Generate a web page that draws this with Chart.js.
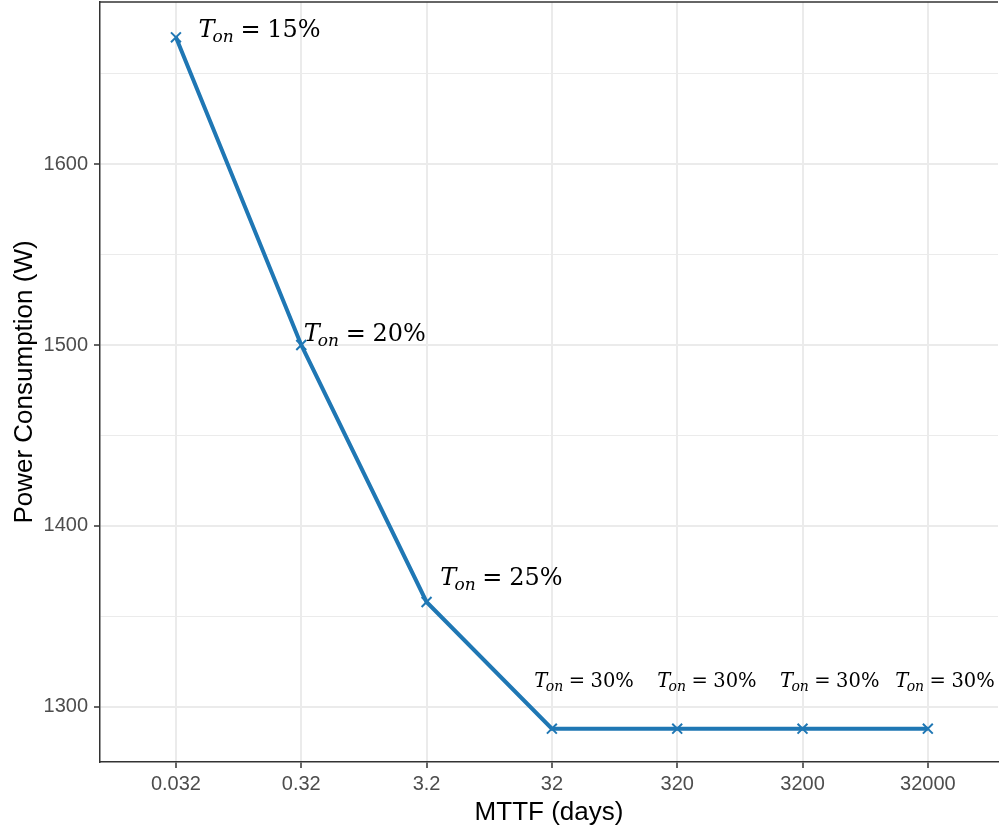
<!DOCTYPE html>
<html>
<head>
<meta charset="utf-8">
<script src="https://cdn.jsdelivr.net/npm/chart.js@4"></script>
<style>
  html, body { margin: 0; padding: 0; background: #fff; }
  #wrap { width: 1000px; height: 830px; }
</style>
</head>
<body>
<div id="wrap"><canvas id="chart" width="1000" height="830"></canvas></div>
<script>
// MTTF categories (evenly spaced on a log scale)
const mttf = ['0.032', '0.32', '3.2', '32', '320', '3200', '32000'];
const power = [1670, 1500, 1358, 1288, 1288, 1288, 1288];
const yTicks = [1300, 1350, 1400, 1450, 1500, 1550, 1600, 1650];

// T_on annotations, anchored at data coords (left edge of text)
const tonValues = ['15%', '20%', '25%', '30%', '30%', '30%', '30%'];
const tonX = [0.18, 1.02, 2.11, 2.86, 3.84, 4.82, 5.74];
const tonY = [1675, 1507, 1372, 1315, 1315, 1315, 1315];
const tonSize = [24, 24, 24, 19.5, 19.5, 19.5, 19.5];

const grey = '#333333';
const sans = '"Liberation Sans", Arial, sans-serif';

const mathLabels = {
  id: 'mathLabels',
  afterDatasetsDraw(chart) {
    const { ctx, scales: { x, y } } = chart;
    ctx.save();
    ctx.fillStyle = '#000';
    ctx.textBaseline = 'alphabetic';
    tonValues.forEach((v, i) => {
      const s = tonSize[i];
      let px = x.getPixelForValue(tonX[i]);
      const py = y.getPixelForValue(tonY[i]) + s * 0.35;
      ctx.font = `italic ${s}px "DejaVu Serif", serif`;
      ctx.fillText('T', px, py);
      px += ctx.measureText('T').width - s * 0.08;
      ctx.font = `italic ${Math.round(s * 0.72)}px "DejaVu Serif", serif`;
      ctx.fillText('on', px, py + s * 0.22);
      px += ctx.measureText('on').width + s * 0.28;
      ctx.font = `${s}px "DejaVu Serif", serif`;
      ctx.fillText('=', px, py);
      px += ctx.measureText('=').width + s * 0.28;
      ctx.fillText(v, px, py);
    });
    ctx.restore();
  }
};

const topBorder = {
  id: 'topBorder',
  afterDraw(chart) {
    const { ctx, chartArea } = chart;
    ctx.save();
    ctx.strokeStyle = grey;
    ctx.lineWidth = 1.5;
    ctx.beginPath();
    ctx.moveTo(chartArea.left, chartArea.top);
    ctx.lineTo(chartArea.right, chartArea.top);
    ctx.stroke();
    ctx.restore();
  }
};

new Chart(document.getElementById('chart'), {
  type: 'line',
  data: {
    datasets: [{
      data: power.map((v, i) => ({ x: i, y: v })),
      borderColor: '#1F77B4',
      backgroundColor: '#1F77B4',
      borderWidth: 4,
      pointStyle: 'crossRot',
      pointRadius: 7,
      pointBorderWidth: 2,
      tension: 0
    }]
  },
  options: {
    responsive: false,
    animation: false,
    layout: { autoPadding: false, padding: { top: 2, right: 2, left: 0, bottom: 0 } },
    plugins: { legend: { display: false }, tooltip: { enabled: false } },
    scales: {
      x: {
        type: 'linear',
        min: -0.606,
        max: 6.56,
        afterBuildTicks: (s) => { s.ticks = mttf.map((_, i) => ({ value: i })); },
        afterFit: (s) => { s.height = 68; s.paddingLeft = 0; s.paddingRight = 0; },
        ticks: {
          autoSkip: false,
          maxRotation: 0,
          padding: 4,
          color: '#4D4D4D',
          font: { family: sans, size: 20 },
          callback: (v) => mttf[v]
        },
        grid: { color: '#EBEBEB', lineWidth: 2, tickColor: grey, tickLength: 6, tickWidth: 1.5 },
        border: { display: true, color: grey, width: 1.5 },
        title: {
          display: true,
          text: 'MTTF (days)',
          color: '#000',
          font: { family: sans, size: 26 },
          padding: { top: 0, bottom: 2 }
        }
      },
      y: {
        min: 1269.6,
        max: 1689.5,
        afterBuildTicks: (s) => { s.ticks = yTicks.map(v => ({ value: v })); },
        afterFit: (s) => { s.width = 100; s.paddingTop = 0; s.paddingBottom = 0; },
        ticks: {
          padding: 6,
          color: '#4D4D4D',
          font: { family: sans, size: 20 },
          callback: (v) => (v % 100 === 0 ? String(v) : '')
        },
        grid: {
          color: '#EBEBEB',
          lineWidth: (c) => (c.tick && c.tick.value % 100 === 0 ? 2 : 1),
          tickColor: (c) => (c.tick && c.tick.value % 100 === 0 ? grey : 'rgba(0,0,0,0)'),
          tickLength: 6,
          tickWidth: 1.5
        },
        border: { display: true, color: grey, width: 1.5 },
        title: {
          display: true,
          text: 'Power Consumption (W)',
          color: '#000',
          font: { family: sans, size: 26 },
          padding: { top: 9, bottom: 0 }
        }
      }
    }
  },
  plugins: [mathLabels, topBorder]
});
</script>
</body>
</html>
